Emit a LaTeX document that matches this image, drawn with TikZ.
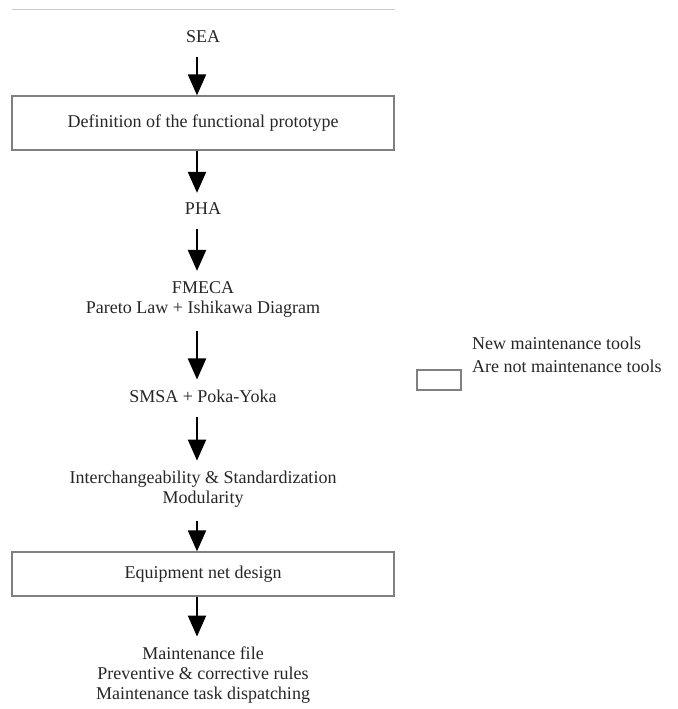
\documentclass[tikz,border=0pt]{standalone}
\usepackage{fontspec}
\setmainfont{Liberation Serif}
\usetikzlibrary{arrows.meta}

\begin{document}
\begin{tikzpicture}[x=1pt, y=-1pt,
        tool/.style={align=center, inner sep=0pt, text=black!85, font=\fontsize{18}{20}\selectfont},
        stage/.style={tool, draw=black!50, line width=1.3pt, minimum width=382pt, minimum height=#1},
        stage/.default=54pt,
        flow/.style={-{Triangle[width=18pt,length=21pt]}, line width=2.2pt, black},
        fromtext/.style={shorten <=14pt},
        totext/.style={shorten >=10pt},
    ]
    \useasboundingbox (0,0) rectangle (677,709);
    \draw[black!20, line width=1pt] (12,10) -- (395,10);
    % the chain of stages
    \node[tool] (sea) at (203,37) {SEA};
    \node[stage=54pt] (proto) at (203,123) {Definition of the functional prototype};
    \node[tool] (pha) at (203,209) {PHA};
    \node[tool] (fmeca) at (203,299) {FMECA\\Pareto Law + Ishikawa Diagram};
    \node[tool] (smsa) at (203,396) {SMSA + Poka-Yoka};
    \node[tool] (inter) at (203,489) {Interchangeability \& Standardization\\Modularity};
    \node[stage=44pt] (net) at (203,574) {Equipment net design};
    \node[tool] (mfile) at (203,675) {Maintenance file\\Preventive \& corrective rules\\Maintenance task dispatching};
    \draw[flow, fromtext] ([xshift=-6pt]sea.south) -- ([xshift=-6pt]proto.north);
    \draw[flow, totext] ([xshift=-6pt]proto.south) -- ([xshift=-6pt]pha.north);
    \draw[flow, fromtext, totext] ([xshift=-6pt]pha.south) -- ([xshift=-6pt]fmeca.north);
    \draw[flow, fromtext, totext] ([xshift=-6pt]fmeca.south) -- ([xshift=-6pt]smsa.north);
    \draw[flow, fromtext, totext] ([xshift=-6pt]smsa.south) -- ([xshift=-6pt]inter.north);
    \draw[flow, fromtext] ([xshift=-6pt]inter.south) -- ([xshift=-6pt]net.north);
    \draw[flow, totext] ([xshift=-6pt]net.south) -- ([xshift=-6pt]mfile.north);
    % legend
    \node[tool, anchor=west] (newkey) at (472,343) {New maintenance tools};
    \node[tool, anchor=west] (oldkey) at (472,366) {Are not maintenance tools};
    \node[draw=black!50, line width=1.3pt, minimum width=44pt, minimum height=20pt] (keybox) at (439,380) {};
\end{tikzpicture}
\end{document}
